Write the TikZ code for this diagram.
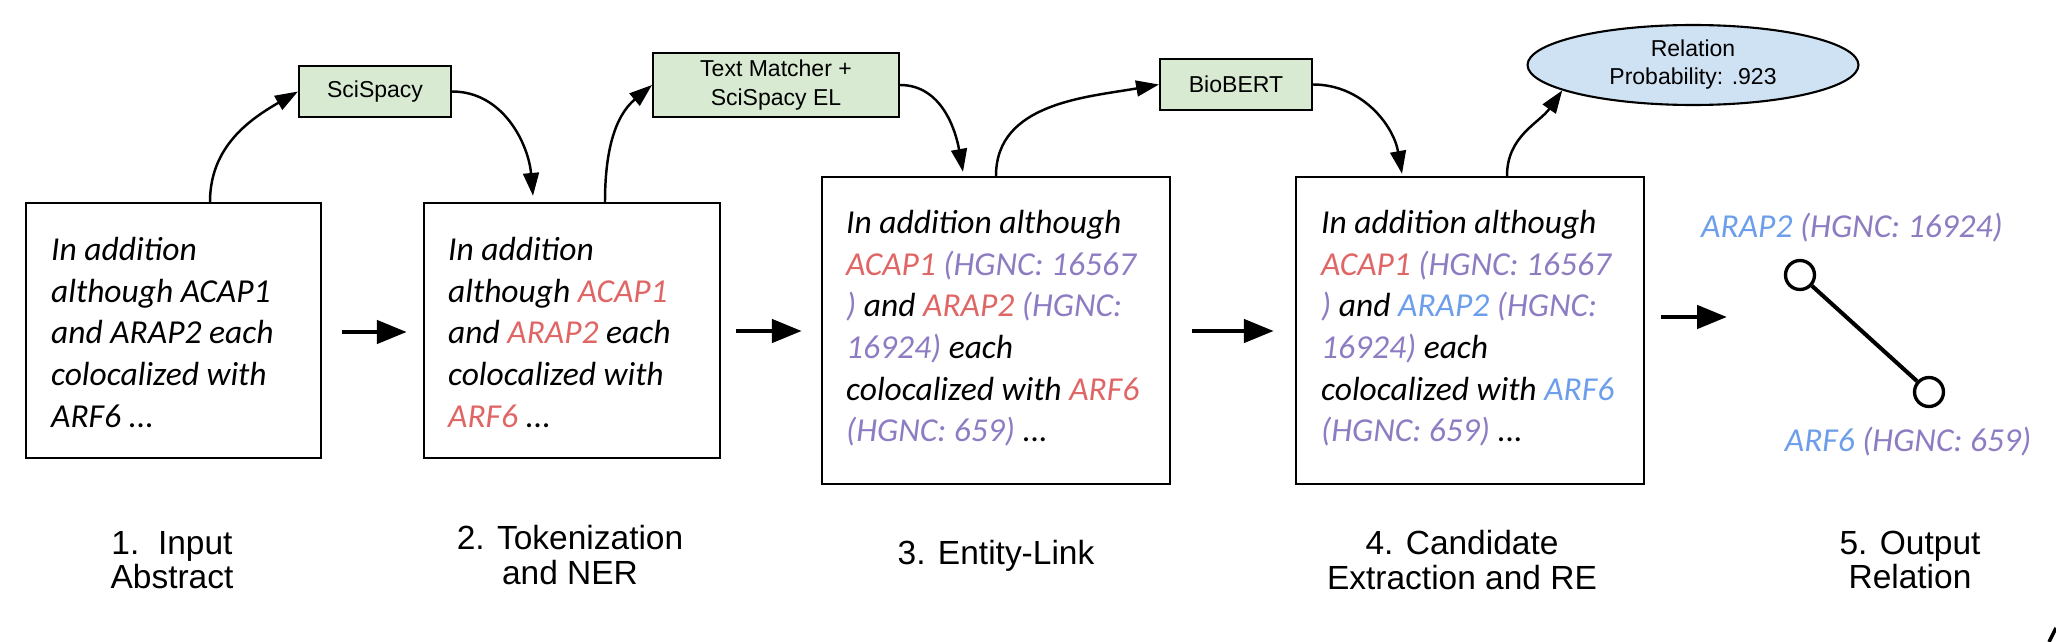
\documentclass[tikz,border=0pt]{standalone}
\usepackage{fontspec}
\setmainfont{Liberation Sans}
\newfontfamily\bodyfont{Carlito}
\usepackage{tikz}
\usetikzlibrary{calc}
\usetikzlibrary{arrows.meta}
\usetikzlibrary{positioning}
\usetikzlibrary{shapes.geometric}

% 颜色
\definecolor{genered}{HTML}{E06666}
\definecolor{hgncpurple}{HTML}{8E7CC3}
\definecolor{relblue}{HTML}{6D9EEB}
\definecolor{toolgreen}{HTML}{D9EAD3}
\definecolor{probblue}{HTML}{CFE2F3}

\newcommand{\gr}[1]{\textcolor{genered}{#1}}
\newcommand{\hg}[1]{\textcolor{hgncpurple}{#1}}
\newcommand{\rb}[1]{\textcolor{relblue}{#1}}
\newcommand{\bodysize}{\bodyfont\itshape\fontsize{19.06}{23.67}\selectfont}

\begin{document}
\begin{tikzpicture}[x=0.02cm, y=0.02cm,
  abox/.style={draw, line width=1.4pt, inner sep=0pt},
  btext/.style={anchor=base west, inner sep=0pt, font=\bodysize},
  tool/.style={draw, fill=toolgreen, line width=1.2pt, inner sep=0pt, align=center, font=\fontsize{13.1}{16.5}\selectfont},
  stage/.style={align=center, inner sep=0pt, font=\fontsize{19.06}{19.5}\selectfont},
  curv/.style={-{Triangle[length=13pt, width=9pt]}, line width=1.4pt},
  harrow/.style={-{Triangle[length=17pt, width=13pt]}, line width=2.8pt},
  gene/.style={draw, circle, line width=1.9pt, minimum size=0.58cm, inner sep=0pt}]
  \useasboundingbox (0,0) rectangle (2056,-642);
  % 四个文本框
  \node[abox, minimum width=5.9cm, minimum height=5.1cm] (b1) at (173.5,-330.5) {};
  \node[abox, minimum width=5.92cm, minimum height=5.1cm] (b2) at (572,-330.5) {};
  \node[abox, minimum width=6.96cm, minimum height=6.14cm] (b3) at (996,-330.5) {};
  \node[abox, minimum width=6.96cm, minimum height=6.14cm] (b4) at (1470,-330.5) {};
  % 框内文字
  \node[btext] (t1) at ($(b1.north west)+(26,-59)$) {\parbox[t]{10cm}{In addition\\although ACAP1\\and ARAP2 each\\colocalized with\\ARF6 ...}};
  \node[btext] (t2) at ($(b2.north west)+(25,-59)$) {\parbox[t]{10cm}{In addition\\although \gr{ACAP1}\\and \gr{ARAP2} each\\colocalized with\\\gr{ARF6} ...}};
  \node[btext] (t3) at ($(b3.north west)+(25,-58)$) {\parbox[t]{10cm}{In addition although\\\gr{ACAP1} \hg{(HGNC: 16567}\\\hg{)} and \gr{ARAP2} \hg{(HGNC:}\\\hg{16924)} each\\colocalized with \gr{ARF6}\\\hg{(HGNC: 659)} ...}};
  \node[btext] (t4) at ($(b4.north west)+(26,-58)$) {\parbox[t]{10cm}{In addition although\\\gr{ACAP1} \hg{(HGNC: 16567}\\\hg{)} and \rb{ARAP2} \hg{(HGNC:}\\\hg{16924)} each\\colocalized with \rb{ARF6}\\\hg{(HGNC: 659)} ...}};
  % 工具框
  \node[tool, minimum width=3.04cm, minimum height=1.02cm] (sci) at (375,-91.5) {SciSpacy};
  \node[tool, minimum width=4.92cm, minimum height=1.28cm] (tm) at (776,-85) {Text Matcher +\\SciSpacy EL};
  \node[tool, minimum width=3.04cm, minimum height=1.02cm] (bert) at (1236,-84.5) {BioBERT};
  \node[draw, ellipse, fill=probblue, line width=1.2pt, minimum width=6.62cm, minimum height=1.6cm, inner sep=0pt, align=center, font=\fontsize{13.1}{15.9}\selectfont] (prob) at (1693,-65) {Relation\\Probability: .923};
  % 弯曲箭头
  \draw[curv] ($(b1.north)+(36.5,0)$) to[out=90, in=210] (sci.west);
  \draw[curv] (sci.east) to[out=0, in=95] ($(b2.north)+(-39,6)$);
  \draw[curv] ($(b2.north)+(33,0)$) to[out=90, in=220] (tm.west);
  \draw[curv] (tm.east) to[out=0, in=100] ($(b3.north)+(-33,4)$);
  \draw[curv] (b3.north) to[out=90, in=190] (bert.west);
  \draw[curv] (bert.east) to[out=0, in=100] ($(b4.north)+(-68,2)$);
  \draw[curv] ($(b4.north)+(37,0)$) to[out=90, in=235] (prob.191);
  % 水平箭头
  \coordinate (outin) at (1727,-317);
  \draw[harrow] ($(b1.east)+(20,-1.5)$) -- ($(b2.west)+(-16,-1.5)$);
  \draw[harrow] ($(b2.east)+(15,-0.5)$) -- ($(b3.west)+(-19,-0.5)$);
  \draw[harrow] ($(b3.east)+(21,-0.5)$) -- ($(b4.west)+(-21,-0.5)$);
  \draw[harrow] ($(b4.east)+(16,13.5)$) -- (outin);
  % 输出关系
  \node[gene] (g1) at (1800,-275) {};
  \node[gene] (g2) at (1929,-392) {};
  \draw[line width=2.3pt] (g1) -- (g2);
  \node[inner sep=0pt, font=\bodysize] (n1) at (1852,-228) {\rb{ARAP2} \hg{(HGNC: 16924)}};
  \node[inner sep=0pt, font=\bodysize] (n2) at (1908,-442) {\rb{ARF6} \hg{(HGNC: 659)}};
  % 步骤标签
  \node[stage] (s1) at (172,-560) {1.\ \ Input\\Abstract};
  \node[stage] (s2) at (570,-555) {2. Tokenization\\and NER};
  \node[stage] (s3) at (996,-556) {3. Entity-Link};
  \node[stage] (s4) at (1462,-560) {4. Candidate\\Extraction and RE};
  \node[stage] (s5) at (1910,-560) {5. Output\\Relation};
  % 右下角残笔
  \draw[line width=2pt] (2049,-642) -- (2056,-628);
\end{tikzpicture}
\end{document}
